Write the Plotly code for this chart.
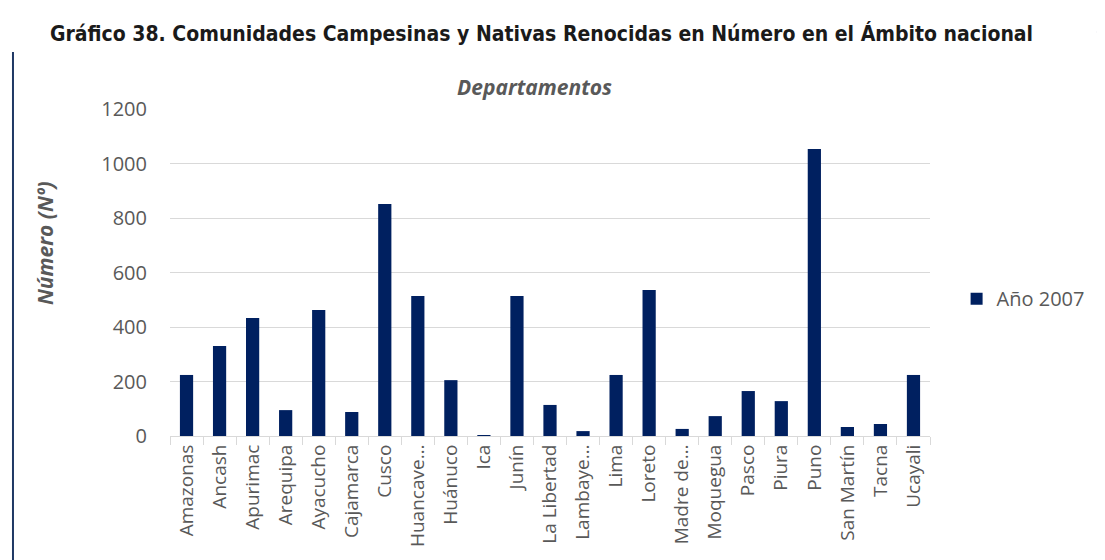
import plotly.graph_objects as go

departamentos = ["Amazonas", "Ancash", "Apurimac", "Arequipa", "Ayacucho", "Cajamarca",
                 "Cusco", "Huancave…", "Huánuco", "Ica", "Junín", "La Libertad",
                 "Lambaye…", "Lima", "Loreto", "Madre de…", "Moquegua", "Pasco",
                 "Piura", "Puno", "San Martín", "Tacna", "Ucayali"]
anio_2007 = [224, 330, 433, 95, 462, 88, 851, 514, 205, 3, 514, 114,
             18, 224, 536, 26, 73, 165, 128, 1053, 33, 44, 224]
y_ticks = [0, 200, 400, 600, 800, 1000, 1200]

NAVY = "#002060"
GRAY = "#595959"

fig = go.Figure()
fig.add_trace(go.Bar(x=departamentos, y=anio_2007, name="Año 2007",
                     marker=dict(color=NAVY, line=dict(width=0))))

fig.update_layout(
    width=1105, height=560,
    paper_bgcolor="white", plot_bgcolor="white",
    margin=dict(l=162, r=183, t=101, b=132, autoexpand=False),
    bargap=0.6,
    showlegend=True,
    legend=dict(x=1.035, y=0.42, xanchor="left", yanchor="middle",
                font=dict(family="Open Sans", size=20, color=GRAY),
                itemwidth=30),
    title=dict(text="<b>Gráfico 38. Comunidades Campesinas y Nativas Renocidas en Número en el Ámbito nacional</b>",
               x=0.038, xanchor="left", y=0.955, yanchor="middle",
               font=dict(family="DejaVu Sans Condensed", size=21, color="#1a1a1a")),
    font=dict(family="Open Sans", color=GRAY),
)

fig.update_yaxes(range=[0, 1200], tickvals=y_ticks, showgrid=True, gridcolor="#d9d9d9",
                 gridwidth=1, zeroline=False, showline=False,
                 tickfont=dict(family="Open Sans", size=20, color=GRAY),
                 ticks="", ticklabelstandoff=22)
fig.update_xaxes(tickangle=-90, tickson="boundaries", ticks="outside", ticklen=8,
                 tickcolor="#d9d9d9", showline=True, linecolor="#d9d9d9", linewidth=1,
                 tickfont=dict(family="Open Sans", size=19, color=GRAY),
                 showgrid=False)

fig.add_annotation(text="<b><i>Departamentos</i></b>", xref="paper", yref="paper",
                   x=0.479, y=1.067, xanchor="center", yanchor="middle", showarrow=False,
                   font=dict(family="Open Sans", size=21, color=GRAY))
fig.add_annotation(text="<b><i>Número (Nº)</i></b>", xref="paper", yref="paper",
                   x=-0.1645, y=0.59, xanchor="center", yanchor="middle", showarrow=False,
                   textangle=-90,
                   font=dict(family="Open Sans", size=21, color=GRAY))

# decorative page borders
fig.add_shape(type="line", xref="paper", yref="paper", x0=-0.2066, x1=-0.2066, y0=-0.4, y1=1.174,
              line=dict(color="#1f3864", width=2))
fig.add_shape(type="line", xref="paper", yref="paper", x0=1.2197, x1=1.2276, y0=1.2355, y1=1.2355,
              line=dict(color="#1f3864", width=2))

fig.write_html("out.html")
